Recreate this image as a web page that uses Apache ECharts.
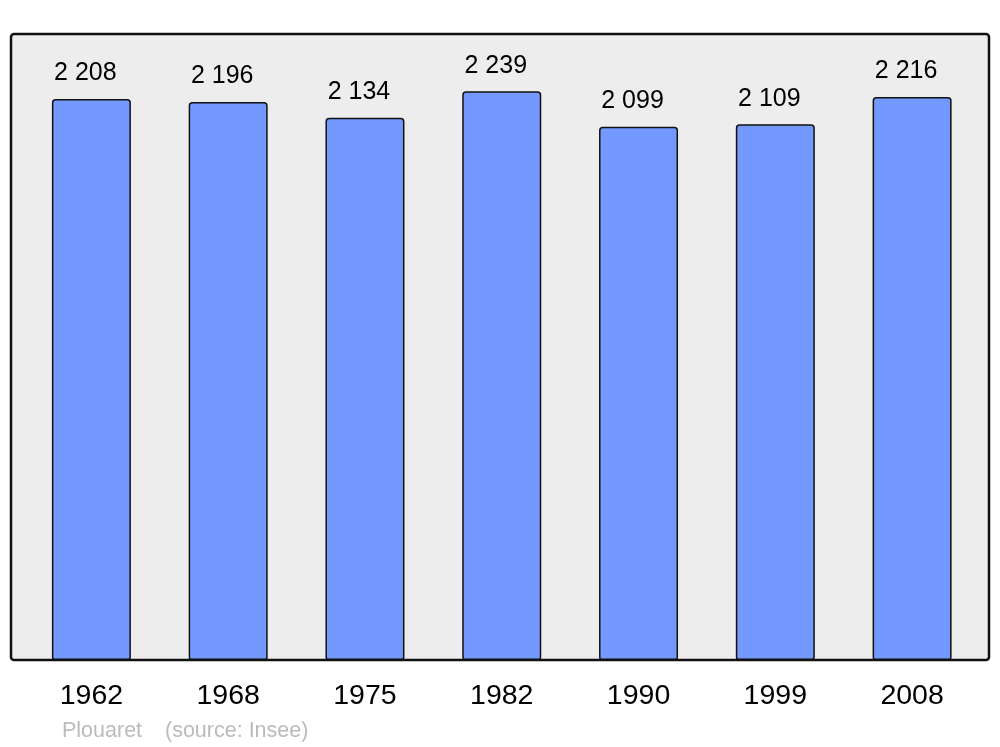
<!DOCTYPE html>
<html><head><meta charset="utf-8">
<script src="https://cdn.jsdelivr.net/npm/echarts@6/dist/echarts.min.js"></script>
<style>html,body{margin:0;padding:0;background:#fff}#c{width:1000px;height:747px}</style>
</head><body><div id="c"></div>
<script>
const years = ['1962', '1968', '1975', '1982', '1990', '1999', '2008'];
const population = [2208, 2196, 2134, 2239, 2099, 2109, 2216];
const place = 'Plouaret';
const source = '(source: Insee)';

const chart = echarts.init(document.getElementById('c'), null, {renderer: 'canvas'});
function fmt(v) { return String(v).replace(/\B(?=(\d{3})+(?!\d))/g, ' '); }
chart.setOption({
  animation: false,
  backgroundColor: '#ffffff',
  textStyle: {fontFamily: 'Liberation Sans, Arial, sans-serif'},
  graphic: [
    {type: 'rect', z: -10, shape: {x: 11, y: 34, width: 978, height: 626, r: 3},
     style: {fill: '#ededed', stroke: '#111111', lineWidth: 2.5}},
    {type: 'text', left: 62, top: 720, style: {text: place, fill: '#bbbbbb', font: '21.5px "Liberation Sans", Arial, sans-serif'}},
    {type: 'text', left: 165, top: 720, style: {text: source, fill: '#bbbbbb', font: '21.5px "Liberation Sans", Arial, sans-serif'}}
  ],
  grid: {left: 23, right: 19.5, top: 34, bottom: 87, containLabel: false},
  xAxis: {
    type: 'category', data: years,
    axisLine: {show: false}, axisTick: {show: false},
    axisLabel: {color: '#000', fontSize: 28.5, margin: 22, fontFamily: 'Liberation Sans, Arial, sans-serif'}
  },
  yAxis: {
    type: 'value', min: 0, max: 2464,
    show: false, splitLine: {show: false}
  },
  series: [{
    type: 'bar', data: population, barWidth: 79,
    itemStyle: {color: '#7399ff', borderColor: '#111111', borderWidth: 1.5, borderRadius: [3, 3, 2, 2]},
    label: {show: true, position: 'top', distance: 13, offset: [-6, 0], color: '#000', fontSize: 25,
      fontFamily: 'Liberation Sans, Arial, sans-serif', formatter: p => fmt(p.value)}
  }]
});
</script></body></html>
